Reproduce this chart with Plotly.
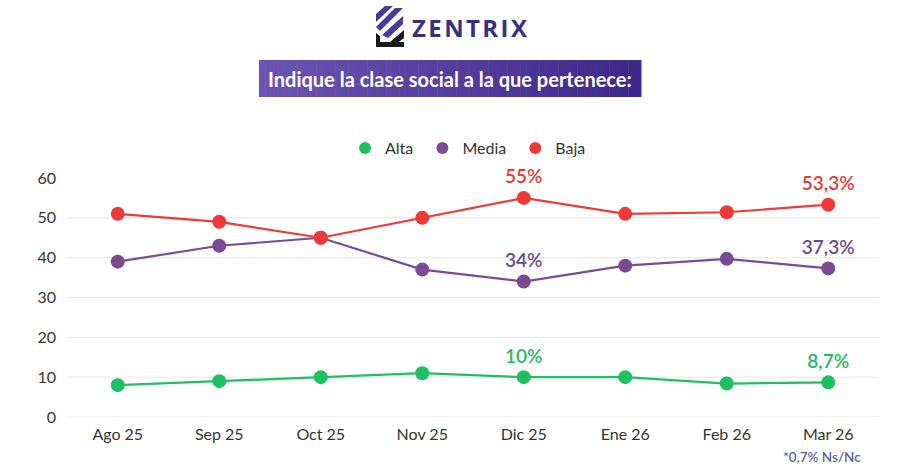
import plotly.graph_objects as go

categories = ["Ago 25", "Sep 25", "Oct 25", "Nov 25", "Dic 25", "Ene 26", "Feb 26", "Mar 26"]
alta = [8, 9, 10, 11, 10, 10, 8.4, 8.7]
media = [39, 43, 45, 37, 34, 38, 39.7, 37.3]
baja = [51, 49, 45, 50, 55, 51, 51.4, 53.3]
alta_labels = ["", "", "", "", "10%", "", "", "8,7%"]
media_labels = ["", "", "", "", "34%", "", "", "37,3%"]
baja_labels = ["", "", "", "", "55%", "", "", "53,3%"]
y_ticks = [0, 10, 20, 30, 40, 50, 60]
grid_vals = [0, 10, 20, 30, 40, 50]

W, H = 900, 470
ML, MR, MT, MB = 67, 21, 178, 53
PW, PH = W - ML - MR, H - MT - MB

def px(x):
    return (x - ML) / PW

def py(y):
    return (H - MB - y) / PH

FONT = "Lato"
series = [
    ("Alta", alta, alta_labels, "#1fbf63", "#25b866"),
    ("Media", media, media_labels, "#7a4a92", "#6b4a8c"),
    ("Baja", baja, baja_labels, "#f03a3a", "#e53935"),
]

fig = go.Figure()
for name, vals, labels, col, tcol in series:
    fig.add_trace(go.Scatter(
        x=categories, y=vals, name=name, mode="lines+markers+text",
        line=dict(color=col, width=2.2),
        marker=dict(color=col, size=14),
        text=labels, textposition="top center",
        textfont=dict(family=FONT, size=19, color=tcol, weight=600),
        cliponaxis=False, showlegend=False,
    ))
for name, vals, labels, col, tcol in series:
    fig.add_trace(go.Scatter(
        x=[None], y=[None], name=name + " ", mode="markers",
        marker=dict(color=col, size=15), showlegend=True,
    ))

shapes = []
for g in grid_vals:
    shapes.append(dict(type="line", xref="paper", yref="y", x0=0, x1=1, y0=g, y1=g,
                       line=dict(color="#e6e6e6", width=1), layer="below"))

# title box with horizontal gradient
bx0, bx1, by0, by1 = 259, 641, 60, 97
n = 60
c0 = (108, 84, 178)
c1 = (62, 40, 138)
for i in range(n):
    t = i / (n - 1)
    c = tuple(int(c0[k] + (c1[k] - c0[k]) * t) for k in range(3))
    xa = bx0 + (bx1 - bx0) * i / n
    xb = bx0 + (bx1 - bx0) * (i + 1) / n + 0.5
    shapes.append(dict(type="rect", xref="paper", yref="paper",
                       x0=px(xa), x1=px(xb), y0=py(by1), y1=py(by0),
                       fillcolor="rgb(%d,%d,%d)" % c, line=dict(width=0)))

# logo icon
def poly(points, color):
    path = "M " + " L ".join("%f,%f" % (px(a), py(b)) for a, b in points) + " Z"
    return dict(type="path", xref="paper", yref="paper", path=path,
                fillcolor=color, line=dict(width=0))

shapes.append(poly([(385, 6), (393, 6), (376, 22), (376, 14)], "#4a3a9a"))
shapes.append(poly([(395, 8), (403, 8), (380, 31), (376, 27)], "#4a3a9a"))
shapes.append(poly([(403, 16), (403, 24), (388, 38), (382, 35)], "#4a3a9a"))
shapes.append(poly([(376, 33), (380, 36), (380, 42), (404, 42), (404, 47), (376, 47)], "#1a1a1a"))
shapes.append(poly([(404, 30), (404, 38), (395, 45), (390, 42)], "#1a1a1a"))

hs = "\u200a"
fig.update_layout(
    width=W, height=H,
    margin=dict(l=ML, r=MR, t=MT, b=MB),
    paper_bgcolor="white", plot_bgcolor="white",
    font=dict(family=FONT, color="#333333"),
    shapes=shapes,
    showlegend=True,
    legend=dict(orientation="h", x=px(470), xanchor="center", y=py(148), yanchor="middle",
                font=dict(family=FONT, size=16, color="#333333"),
                itemsizing="constant", itemwidth=30, traceorder="normal"),
    xaxis=dict(showgrid=False, showline=False, zeroline=False, ticks="",
               tickfont=dict(family=FONT, size=16, color="#333333"),
               range=[-0.5, 7.5], type="category", ticklabelstandoff=6),
    yaxis=dict(range=[0, 60], tickvals=y_ticks, showgrid=False, zeroline=False,
               showline=False, ticks="", ticklabelstandoff=10,
               tickfont=dict(family=FONT, size=16, color="#333333")),
    annotations=[
        dict(text="<b>Indique la clase social a la que pertenece:</b>", xref="paper", yref="paper",
             x=px(450), y=py(78.5), xanchor="center", yanchor="middle", showarrow=False,
             font=dict(family=FONT, size=20, color="white")),
        dict(text=hs.join("ZENTRIX"), xref="paper", yref="paper",
             x=px(410), y=py(27), xanchor="left", yanchor="middle", showarrow=False,
             font=dict(family="Open Sans", size=24, color="#3a2f7d", weight=700)),
        dict(text="*0,7% Ns/Nc", xref="paper", yref="paper",
             x=px(822), y=py(457), xanchor="center", yanchor="middle", showarrow=False,
             font=dict(family=FONT, size=13.5, color="#5e5e92", weight=600)),
    ],
)

fig.write_html("out.html")
